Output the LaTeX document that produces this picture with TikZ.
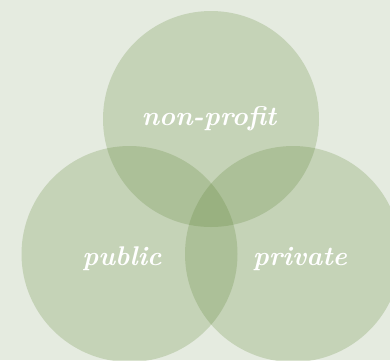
\documentclass[tikz,border=0pt]{standalone}
\definecolor{bgc}{RGB}{229,235,224}
\definecolor{circc}{RGB}{88,128,45}
\tikzset{
  venn/.style={fill=circc, fill opacity=0.225, draw=none},
  lbl/.style={text=white, font=\fontsize{27}{30}\selectfont\bfseries\itshape, inner sep=0pt}
}
\begin{document}
\begin{tikzpicture}[x=1pt,y=-1pt]
\useasboundingbox (0,0) rectangle (390,360);
\clip (0,0) rectangle (390,360);
\fill[bgc] (0,0) rectangle (390,360);
\path[venn] (211,119) circle (108);
\path[venn] (129.5,254) circle (108);
\path[venn] (293,254) circle (108);
\node[lbl] (np) at (209,119) {non-profit};
\node[lbl] (pub) at (122,259) {public};
\node[lbl] (pri) at (300,259) {private};
\end{tikzpicture}
\end{document}
